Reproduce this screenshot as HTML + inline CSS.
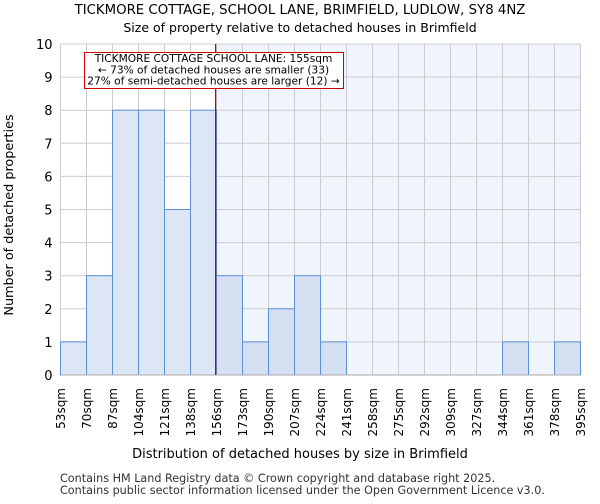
<!DOCTYPE html>
<html><head><meta charset="utf-8"><style>
body{margin:0;background:#fff;font-family:"DejaVu Sans","Liberation Sans",sans-serif}
</style></head><body>
<svg width="600" height="500" xmlns="http://www.w3.org/2000/svg" font-family="DejaVu Sans, Liberation Sans, sans-serif">
<text x="300" y="14" text-anchor="middle" font-size="13.3">TICKMORE COTTAGE, SCHOOL LANE, BRIMFIELD, LUDLOW, SY8 4NZ</text>
<text x="300" y="32" text-anchor="middle" font-size="12.5">Size of property relative to detached houses in Brimfield</text>
<g id="plot"></g>
<text x="300" y="458" text-anchor="middle" font-size="13">Distribution of detached houses by size in Brimfield</text>
<text transform="translate(13,215) rotate(-90)" text-anchor="middle" font-size="12.8">Number of detached properties</text>
<text x="60" y="482" font-size="11.2" fill="#333">Contains HM Land Registry data © Crown copyright and database right 2025.</text>
<text x="60" y="494" font-size="11.2" fill="#333">Contains public sector information licensed under the Open Government Licence v3.0.</text>
</svg>
<script>
const binLabels=["53sqm","70sqm","87sqm","104sqm","121sqm","138sqm","156sqm","173sqm","190sqm","207sqm","224sqm","241sqm","258sqm","275sqm","292sqm","309sqm","327sqm","344sqm","361sqm","378sqm","395sqm"];
const counts=[1,3,8,8,5,8,3,1,2,3,1,0,0,0,0,0,0,1,0,1];
const yTicks=[0,1,2,3,4,5,6,7,8,9,10];
const subjectSize=155;
const xMin=53,xMax=395;
const L=60.5,R=580.5,T=44,B=375;
const NS="http://www.w3.org/2000/svg";
const g=document.getElementById('plot');
const n=counts.length,bw=(R-L)/n;
const xb=i=>L+i*bw;
const xv=v=>L+(v-xMin)/(xMax-xMin)*(R-L);
const y=v=>B-v/10*(B-T);
function mk(t,a){const e=document.createElementNS(NS,t);for(const k in a)e.setAttribute(k,a[k]);g.appendChild(e);return e;}
const sx=xv(subjectSize);
const sh=mk('rect',{x:sx,y:T,width:R-sx,height:B-T,fill:'#f0f4fc'});


yTicks.forEach(t=>{const l=mk('line',{x1:L,x2:R,y1:y(t),y2:y(t),stroke:'#ccc','stroke-width':1});


const tx=mk('text',{x:L-8,y:y(t)+5,'text-anchor':'end','font-size':13});tx.textContent=t;

});
binLabels.forEach((s,i)=>{const l=mk('line',{x1:xb(i),x2:xb(i),y1:T,y2:B,stroke:'#ccc','stroke-width':1});


const tx=mk('text',{transform:`translate(${xb(i)+4.5},388) rotate(-90)`,'text-anchor':'end','font-size':12});tx.textContent=s;

});
counts.forEach((c,i)=>{if(c<=0)return;const r=mk('rect',{x:xb(i),y:y(c),width:bw,height:B-y(c),fill:i>=6?'#d5e1f3':'#dce6f4',stroke:'#5b8fd6','stroke-width':1});

});
const ax=mk('line',{x1:L,x2:R,y1:B,y2:B,stroke:'#aaa'});


const ml=mk('line',{x1:sx,x2:sx,y1:T,y2:B,stroke:'#c00','stroke-width':1.2});


const box=mk('rect',{x:84.5,y:52.5,width:259,height:36,fill:'#fff',stroke:'#c00','stroke-width':1});


["TICKMORE COTTAGE SCHOOL LANE: 155sqm","← 73% of detached houses are smaller (33)","27% of semi-detached houses are larger (12) →"].forEach((s,i)=>{
const t=mk('text',{x:213.5,y:62+i*11.3,'text-anchor':'middle','font-size':10.6});t.textContent=s;

});
</script>
</body></html>
